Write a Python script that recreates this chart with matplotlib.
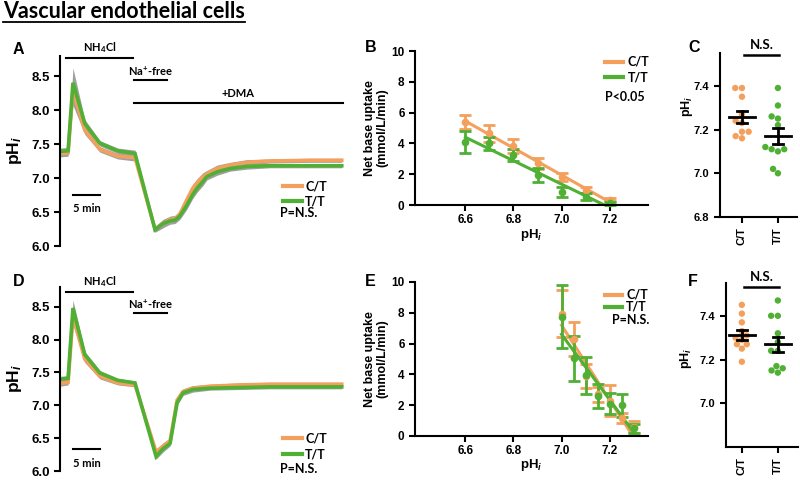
import numpy as np
import pandas as pd
import matplotlib
matplotlib.use('Agg')
import matplotlib.pyplot as plt
import seaborn as sns
from matplotlib.lines import Line2D

# ---- panel A / D : pHi traces (time in min) ----
t_a = [0, 1.5, 2.4, 4.6, 7.4, 10.7, 13.9, 17.6, 19.1, 20.4, 21.3, 22.2, 23.5,
       24.6, 25.4, 26.5, 27.2, 29.1, 31.5, 34.6, 38.9, 46.3, 52.2]
a_ct = [7.36, 7.37, 8.29, 7.70, 7.42, 7.32, 7.30, 6.25, 6.33, 6.39, 6.40, 6.47, 6.68,
        6.85, 6.93, 7.02, 7.06, 7.14, 7.19, 7.23, 7.25, 7.26, 7.26]
a_tt = [7.39, 7.40, 8.40, 7.80, 7.51, 7.40, 7.36, 6.24, 6.33, 6.37, 6.38, 6.44, 6.60,
        6.76, 6.85, 6.95, 7.02, 7.09, 7.14, 7.17, 7.18, 7.18, 7.18]
a_sem = [0.05, 0.05, 0.22, 0.06, 0.04, 0.04, 0.05, 0.04, 0.06, 0.05, 0.05, 0.05, 0.06,
         0.06, 0.06, 0.06, 0.05, 0.05, 0.04, 0.04, 0.03, 0.03, 0.03]

t_d = [0, 1.5, 2.4, 4.6, 7.4, 10.7, 13.9, 17.8, 19.1, 20.4, 21.7, 22.8, 24.6,
       27.8, 33.3, 38.9, 46.3, 52.2]
d_ct = [7.33, 7.35, 8.35, 7.70, 7.44, 7.34, 7.31, 6.29, 6.38, 6.46, 7.08, 7.21, 7.26,
        7.29, 7.31, 7.32, 7.32, 7.32]
d_tt = [7.40, 7.41, 8.48, 7.77, 7.49, 7.38, 7.34, 6.22, 6.34, 6.42, 7.04, 7.19, 7.24,
        7.26, 7.27, 7.28, 7.28, 7.28]
d_sem = [0.04, 0.04, 0.12, 0.05, 0.04, 0.03, 0.03, 0.04, 0.05, 0.04, 0.04, 0.04, 0.04,
         0.03, 0.03, 0.03, 0.03, 0.03]

# ---- panel B / E : net base uptake vs pHi ----
ph_b = [6.6, 6.7, 6.8, 6.9, 7.0, 7.1, 7.2]
b_ct = [5.4, 4.65, 3.85, 2.7, 1.8, 1.0, 0.35]
b_ct_err = [0.45, 0.55, 0.45, 0.35, 0.25, 0.2, 0.1]
b_tt = [4.1, 4.0, 3.25, 1.95, 0.85, 0.55, 0.1]
b_tt_err = [0.7, 0.4, 0.4, 0.45, 0.35, 0.25, 0.1]

ph_e = [7.0, 7.05, 7.1, 7.15, 7.2, 7.25, 7.3]
e_ct = [7.95, 6.3, 3.9, 2.7, 2.3, 1.15, 0.6]
e_ct_err = [1.55, 1.1, 0.8, 0.5, 1.0, 0.33, 0.4]
e_tt = [7.75, 5.05, 3.95, 2.6, 2.1, 2.0, 0.5]
e_tt_err = [2.05, 1.45, 1.2, 0.8, 0.7, 0.75, 0.3]

# ---- panel C / F : resting pHi ----
groups = ['C/T', 'T/T']
c_ct = [7.39, 7.39, 7.35, 7.27, 7.24, 7.23, 7.19, 7.19, 7.17, 7.16]
c_tt = [7.39, 7.31, 7.26, 7.25, 7.22, 7.12, 7.11, 7.10, 7.11, 7.02, 7.00]
f_ct = [7.45, 7.41, 7.37, 7.33, 7.31, 7.30, 7.29, 7.27, 7.27, 7.25, 7.19]
f_tt = [7.47, 7.40, 7.40, 7.32, 7.28, 7.24, 7.24, 7.17, 7.16, 7.15, 7.14]

ORANGE = '#F4A05C'
GREEN = '#4FB034'
GREY = '#A0A0A0'
ANN = 'Lato'

plt.rcParams['font.family'] = ['Liberation Sans', 'DejaVu Sans']
plt.rcParams['font.weight'] = 'bold'
plt.rcParams['axes.labelweight'] = 'bold'
plt.rcParams['mathtext.fontset'] = 'custom'
plt.rcParams['mathtext.rm'] = 'Lato:bold'
plt.rcParams['mathtext.bf'] = 'Lato:bold'
plt.rcParams['mathtext.it'] = 'Liberation Sans:bold:italic'

W, H = 800, 487
fig = plt.figure(figsize=(8, 4.87), dpi=100)


def px_axes(l, t, r, b):
    return fig.add_axes([l / W, 1 - b / H, (r - l) / W, (b - t) / H])


def style(ax, lw=1.5):
    for s in ['top', 'right']:
        ax.spines[s].set_visible(False)
    for s in ['left', 'bottom']:
        ax.spines[s].set_linewidth(lw)
    ax.tick_params(width=lw, length=4, color='k')


def legend_manual(ax, x0, x1, xt, y1, y2, xp, yp, ptxt):
    ax.plot([x0, x1], [y1, y1], color=ORANGE, lw=3, transform=ax.transAxes, clip_on=False)
    ax.plot([x0, x1], [y2, y2], color=GREEN, lw=3, transform=ax.transAxes, clip_on=False)
    ax.text(xt, y1, 'C/T', transform=ax.transAxes, va='center', ha='left',
            fontsize=9, family=ANN, fontweight='bold')
    ax.text(xt, y2, 'T/T', transform=ax.transAxes, va='center', ha='left',
            fontsize=9, family=ANN, fontweight='bold')
    ax.text(xp, yp, ptxt, transform=ax.transAxes, va='center', ha='left',
            fontsize=9, family=ANN, fontweight='bold')


def trace_panel(ax, t, ct, tt, sem):
    ct, tt, sem = np.array(ct), np.array(tt), np.array(sem)
    ax.fill_between(t, ct - sem, ct + sem, color=GREY, lw=0)
    ax.fill_between(t, tt - sem, tt + sem, color=GREY, lw=0)
    ax.plot(t, ct, color=ORANGE, lw=2.6, solid_joinstyle='miter')
    ax.plot(t, tt, color=GREEN, lw=2.6, solid_joinstyle='miter')
    ax.set_xlim(0, 52.8)
    ax.set_ylim(6.0, 8.8)
    style(ax)
    ax.spines['bottom'].set_visible(False)
    ax.set_xticks([])
    ax.set_yticks(np.arange(6.0, 8.51, 0.5))
    ax.set_yticklabels(['%.1f' % v for v in np.arange(6.0, 8.51, 0.5)], fontsize=9.5)
    ax.set_ylabel(r'pH$_i$', fontsize=12.5)
    ax.yaxis.set_label_coords(-0.125, 0.5)


def bar_note(ax, x0, x1, y, txt, ty):
    ax.plot([x0, x1], [y, y], color='k', lw=1.5, clip_on=False)
    ax.text((x0 + x1) / 2, ty, txt, ha='center', va='center', fontsize=8,
            family=ANN, fontweight='bold', clip_on=False)


def uptake_panel(ax, ph, ct, ct_err, tt, tt_err):
    for y, e, c in [(ct, ct_err, ORANGE), (tt, tt_err, GREEN)]:
        ax.errorbar(ph, y, yerr=e, fmt='o', color=c, ms=4.5, elinewidth=2,
                    capsize=4, capthick=2, clip_on=False)
        k, b0 = np.polyfit(ph, y, 1)
        xs = np.array([ph[0], ph[-1]])
        ax.plot(xs, k * xs + b0, color=c, lw=2.2)
    ax.set_xlim(6.39, 7.36)
    ax.set_ylim(0, 10)
    style(ax)
    ax.set_xticks([6.6, 6.8, 7.0, 7.2])
    ax.set_xticklabels(['6.6', '6.8', '7.0', '7.2'], fontsize=8.5)
    ax.tick_params(axis='x', pad=2.5)
    ax.set_yticks(range(0, 11, 2))
    ax.set_yticklabels([str(v) for v in range(0, 11, 2)], fontsize=8.5)
    ax.set_ylabel('Net base uptake\n(mmol/L/min)', fontsize=9, linespacing=1.0)
    ax.yaxis.set_label_coords(-0.115, 0.5)
    ax.set_xlabel(r'pH$_i$', fontsize=9.5)


def resting_panel(ax, ct, tt, ticks):
    df = pd.DataFrame({'g': ['C/T'] * len(ct) + ['T/T'] * len(tt), 'v': ct + tt})
    sns.swarmplot(data=df, x='g', y='v', hue='g', order=groups,
                  palette={'C/T': ORANGE, 'T/T': GREEN}, size=4.6,
                  legend=False, ax=ax)
    for i, vals in enumerate([ct, tt]):
        m = np.mean(vals)
        s = np.std(vals, ddof=1) / np.sqrt(len(vals))
        ax.plot([i - 0.37, i + 0.37], [m, m], color='k', lw=2, zorder=5)
        ax.plot([i, i], [m - s, m + s], color='k', lw=2, zorder=5)
        ax.plot([i - 0.14, i + 0.14], [m + s, m + s], color='k', lw=2, zorder=5)
        ax.plot([i - 0.14, i + 0.14], [m - s, m - s], color='k', lw=2, zorder=5)
    ax.set_ylim(6.8, 7.55)
    style(ax)
    ax.set_yticks(ticks)
    ax.set_yticklabels(['%.1f' % v for v in ticks], fontsize=8)
    ax.set_xticks([0, 1])
    ax.set_xticklabels(groups, rotation=90, fontsize=8)
    ax.set_xlabel('')
    ax.set_ylabel(r'pH$_i$', fontsize=9)


# ---------- A ----------
axA = px_axes(60, 55.6, 345, 246)
trace_panel(axA, t_a, a_ct, a_tt, a_sem)
bar_note(axA, 1.1, 13.5, 8.765, r'NH$_4$Cl', 8.92)
bar_note(axA, 13.7, 19.8, 8.44, r'Na$^{+}$-free', 8.575)
bar_note(axA, 13.7, 52.4, 8.10, '+DMA', 8.25)
bar_note(axA, 2.4, 7.4, 6.75, '5 min', 6.545)
legend_manual(axA, 0.782, 0.849, 0.86, 0.315, 0.236, 0.772, 0.173, 'P=N.S.')

# ---------- D ----------
axD = px_axes(60, 287, 345, 471)
trace_panel(axD, t_d, d_ct, d_tt, d_sem)
bar_note(axD, 1.1, 13.5, 8.72, r'NH$_4$Cl', 8.876)
bar_note(axD, 13.7, 19.8, 8.40, r'Na$^{+}$-free', 8.53)
bar_note(axD, 2.4, 7.4, 6.335, '5 min', 6.12)
legend_manual(axD, 0.782, 0.849, 0.86, 0.179, 0.092, 0.772, 0.011, 'P=N.S.')

# ---------- B ----------
axB = px_axes(415, 51, 648, 205)
uptake_panel(axB, ph_b, b_ct, b_ct_err, b_tt, b_tt_err)
axB.xaxis.set_label_coords(0.5, -0.14)
legend_manual(axB, 0.815, 0.893, 0.914, 0.929, 0.831, 0.815, 0.701, 'P<0.05')

# ---------- E ----------
axE = px_axes(415, 282, 648, 436)
uptake_panel(axE, ph_e, e_ct, e_ct_err, e_tt, e_tt_err)
axE.xaxis.set_label_coords(0.5, -0.135)
legend_manual(axE, 0.815, 0.888, 0.906, 0.916, 0.838, 0.845, 0.753, 'P=N.S.')

# ---------- C ----------
axC = px_axes(720, 53, 797, 217)
resting_panel(axC, c_ct, c_tt, [6.8, 7.0, 7.2, 7.4])
axC.set_xlim(-0.61, 1.53)
axC.yaxis.set_label_coords(-0.33, 0.677)
axC.plot([0.312, 0.766], [0.988, 0.988], color='k', lw=1.8, transform=axC.transAxes, clip_on=False)
axC.text(0.545, 1.05, 'N.S.', transform=axC.transAxes, ha='center', va='center',
         fontsize=9.5, family=ANN, fontweight='bold')

# ---------- F ----------
axF = px_axes(726, 283, 798, 447)
resting_panel(axF, f_ct, f_tt, [7.0, 7.2, 7.4])
axF.set_xlim(-0.44, 1.56)
axF.yaxis.set_label_coords(-0.45, 0.54)
axF.plot([0.25, 0.736], [0.976, 0.976], color='k', lw=1.8, transform=axF.transAxes, clip_on=False)
axF.text(0.5, 1.037, 'N.S.', transform=axF.transAxes, ha='center', va='center',
         fontsize=9.5, family=ANN, fontweight='bold')

# panel letters
for lab, x, y in [('A', 13, 49), ('B', 365, 48), ('C', 688, 48),
                  ('D', 13, 281), ('E', 365, 282), ('F', 688, 282)]:
    fig.text(x / W, 1 - y / H, lab, fontsize=11.5, fontweight='bold', va='center', ha='left')

# title with underline
title = fig.text(3 / W, 1 - 18.5 / H, 'Vascular endothelial cells', fontsize=15.5,
                 family=ANN, fontweight='bold', va='baseline', ha='left')
fig.canvas.draw()
bb = title.get_window_extent()
fig.add_artist(Line2D([bb.x0 / W, bb.x1 / W], [1 - 22 / H] * 2, color='k', lw=1.3))

fig.savefig('out.png', dpi=100)
